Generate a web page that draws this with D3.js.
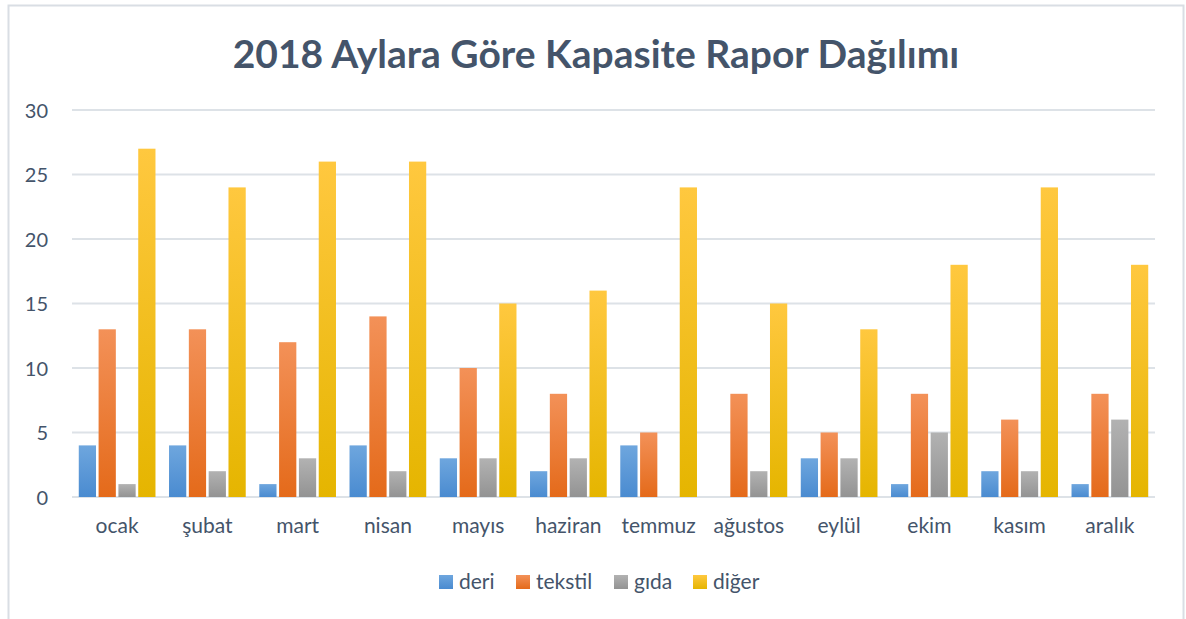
<!DOCTYPE html>
<html>
<head>
<meta charset="utf-8">
<script src="https://cdn.jsdelivr.net/npm/d3@7"></script>
<style>
  body { margin: 0; background: #fff; }
  text { font-family: Lato, "Open Sans", sans-serif; fill: #44546A; }
</style>
</head>
<body>
<svg id="chart" width="1186" height="619"></svg>
<script>
var months = ["ocak", "şubat", "mart", "nisan", "mayıs", "haziran", "temmuz", "ağustos", "eylül", "ekim", "kasım", "aralık"];
var seriesNames = ["deri", "tekstil", "gıda", "diğer"];
var deri    = [4, 4, 1, 4, 3, 2, 4, 0, 3, 1, 2, 1];
var tekstil = [13, 13, 12, 14, 10, 8, 5, 8, 5, 8, 6, 8];
var gida    = [1, 2, 3, 2, 3, 3, 0, 2, 3, 5, 2, 6];
var diger   = [27, 24, 26, 26, 15, 16, 24, 15, 13, 18, 24, 18];
var yTicks  = [0, 5, 10, 15, 20, 25, 30];

var values = [deri, tekstil, gida, diger];
// renk: üst, alt
var colors = [["#6EA6DE", "#4A8BD0"], ["#F39158", "#E46A1A"], ["#B2B2B2", "#939393"], ["#FFC83F", "#E5B500"]];

var svg = d3.select("#chart");

// dış çerçeve
svg.append("rect")
    .attr("x", 8.5).attr("y", 5.5)
    .attr("width", 1175).attr("height", 640)
    .attr("fill", "none")
    .attr("stroke", "#D9DEE4")
    .attr("stroke-width", 2);

var defs = svg.append("defs");
colors.forEach(function(c, i) {
  var g = defs.append("linearGradient")
      .attr("id", "grad" + i)
      .attr("x1", 0).attr("y1", 0).attr("x2", 0).attr("y2", 1);
  g.append("stop").attr("offset", "0%").attr("stop-color", c[0]);
  g.append("stop").attr("offset", "100%").attr("stop-color", c[1]);
});

var plotLeft = 72, plotRight = 1155, plotTop = 110, plotBottom = 497;

var y = d3.scaleLinear().domain([0, 30]).range([plotBottom, plotTop]);
var x0 = d3.scaleBand().domain(months).range([plotLeft, plotRight])
    .paddingInner(0.15).paddingOuter(0.075);
var x1 = d3.scaleBand().domain(seriesNames).range([0, x0.bandwidth()])
    .paddingInner(0.13);

svg.append("text")
    .attr("x", 596).attr("y", 68)
    .attr("text-anchor", "middle")
    .attr("font-size", 39)
    .attr("font-weight", "bold")
    .text("2018 Aylara Göre Kapasite Rapor Dağılımı");

// ızgara çizgileri
svg.append("g")
  .selectAll("line")
    .data(yTicks)
  .enter().append("line")
    .attr("x1", plotLeft).attr("x2", plotRight)
    .attr("y1", function(d) { return y(d); })
    .attr("y2", function(d) { return y(d); })
    .attr("stroke", "#DDE2E7")
    .attr("stroke-width", 2);

var yAxis = svg.append("g")
    .attr("transform", "translate(" + (plotLeft - 24) + ",0)")
    .call(d3.axisLeft(y).tickValues(yTicks).tickSize(0).tickPadding(0));
yAxis.select(".domain").remove();
yAxis.selectAll("text").attr("font-size", 20).attr("dy", "0.35em");

var xAxis = svg.append("g")
    .attr("transform", "translate(0," + plotBottom + ")")
    .call(d3.axisBottom(x0).tickSize(0).tickPadding(21));
xAxis.select(".domain").remove();
xAxis.selectAll("text").attr("font-size", 21);

var groups = svg.append("g")
  .selectAll("g")
    .data(months)
  .enter().append("g")
    .attr("transform", function(d) { return "translate(" + x0(d) + ",0)"; });

groups.selectAll("rect")
    .data(function(d, mi) {
      return seriesNames.map(function(s, si) { return {s: s, i: si, v: values[si][mi]}; });
    })
  .enter().append("rect")
    .filter(function(d) { return d.v > 0; })
    .attr("x", function(d) { return x1(d.s); })
    .attr("y", function(d) { return y(d.v); })
    .attr("width", x1.bandwidth())
    .attr("height", function(d) { return y(0) - y(d.v); })
    .attr("fill", function(d) { return "url(#grad" + d.i + ")"; });

// lejant
var legendX = [439, 516, 614, 693];
var legend = svg.append("g")
  .selectAll("g")
    .data(seriesNames)
  .enter().append("g")
    .attr("transform", function(d, i) { return "translate(" + legendX[i] + ",575)"; });
legend.append("rect")
    .attr("width", 14).attr("height", 14)
    .attr("fill", function(d, i) { return "url(#grad" + i + ")"; });
legend.append("text")
    .attr("x", 20).attr("y", 7)
    .attr("dy", "0.35em")
    .attr("font-size", 21)
    .text(function(d) { return d; });
</script>
</body>
</html>
